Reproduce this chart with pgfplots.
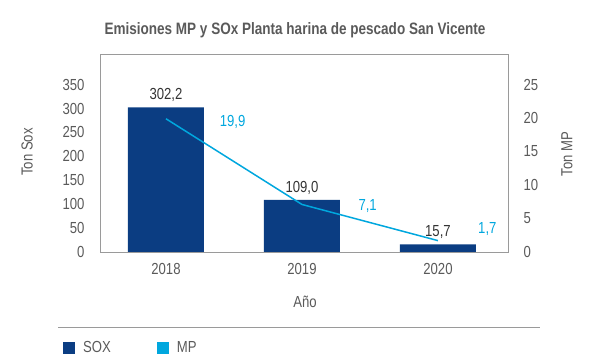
\documentclass[border=0pt]{standalone}
\usepackage{fontspec}
\setmainfont{Liberation Sans}[FakeStretch=0.82]
\usepackage{pgfplots}
\pgfplotsset{compat=1.18}
\definecolor{sox}{HTML}{0B3D82}
\definecolor{mp}{HTML}{00A7DE}
\definecolor{txt}{HTML}{5A5A5A}
\definecolor{framec}{HTML}{9A9A9A}
\definecolor{lab}{HTML}{333333}
\begin{document}
\begin{tikzpicture}[x=1pt,y=1pt]
\path[use as bounding box] (0,0) rectangle (589,360);
\node[text=txt, font=\fontsize{16.5}{18}\selectfont\bfseries] at (295,330) {Emisiones MP y SOx Planta harina de pescado San Vicente};
\begin{axis}[
  at={(100pt,108pt)}, anchor=south west, scale only axis,
  width=408pt, height=198pt,
  xmin=-0.485, xmax=2.515, ymin=0, ymax=414,
  xtick={0,1,2}, xticklabels={2018,2019,2020},
  ytick={0,50,...,350},
  axis line style={framec, line width=0.8pt},
  tick style={draw=none},
  ticklabel style={text=txt, font=\fontsize{16}{18}\selectfont},
  xticklabel style={yshift=-8pt},
  yticklabel style={xshift=-12pt},
  /pgf/number format/assume math mode=true,
  legend style={at={(-0.098,-0.485)}, anchor=west, legend columns=2, draw=none, fill=none,
    font=\fontsize{16}{18}\selectfont, text=txt,
    /tikz/every odd column/.append style={column sep=6pt},
    /tikz/every even column/.append style={column sep=44pt}},
  legend image code/.code={\fill[#1] (0pt,-6pt) rectangle (12pt,6pt);},
]
\addplot[ybar, bar width=76pt, fill=sox, draw=none,
  nodes near coords, every node near coord/.append style={text=lab, font=\fontsize{16}{18}\selectfont, yshift=2pt},
  /pgf/number format/.cd, use comma, fixed, fixed zerofill, precision=1]
  coordinates {(0,302.2) (1,109.0) (2,15.7)};
\addlegendentry{SOX}
\addlegendimage{fill=mp, draw=none}
\addlegendentry{MP}
\end{axis}
\begin{axis}[
  at={(100pt,108pt)}, anchor=south west, scale only axis,
  width=408pt, height=198pt,
  xmin=-0.485, xmax=2.515, ymin=0, ymax=29.57,
  axis x line=none, axis y line*=right,
  ytick={0,5,...,25},
  axis line style={framec, line width=0.8pt},
  tick style={draw=none},
  ticklabel style={text=txt, font=\fontsize{16}{18}\selectfont},
  yticklabel style={xshift=12pt},
  /pgf/number format/assume math mode=true,
]
\addplot[mp, line width=1.5pt, mark=none] coordinates {(0,19.9) (1,7.1) (2,1.7)};
\node[text=mp, anchor=west, font=\fontsize{16}{18}\selectfont] at (axis cs:0.37,19.9) [yshift=-3pt] {19,9};
\node[text=mp, anchor=west, font=\fontsize{16}{18}\selectfont] at (axis cs:1.39,7.1) [yshift=-2pt] {7,1};
\node[text=mp, anchor=west, font=\fontsize{16}{18}\selectfont] at (axis cs:2.27,1.7) [yshift=12pt] {1,7};
\end{axis}
\draw[framec, line width=0.8pt] (100,108) rectangle (508,306);
\node[rotate=90, text=txt, font=\fontsize{16}{18}\selectfont] at (27,208) {Ton Sox};
\node[rotate=90, text=txt, font=\fontsize{16}{18}\selectfont] at (567,206) {Ton MP};
\node[text=txt, font=\fontsize{16}{18}\selectfont] at (305,58) {Año};
\draw[framec, line width=1pt] (58,33) -- (540,33);
\end{tikzpicture}
\end{document}
